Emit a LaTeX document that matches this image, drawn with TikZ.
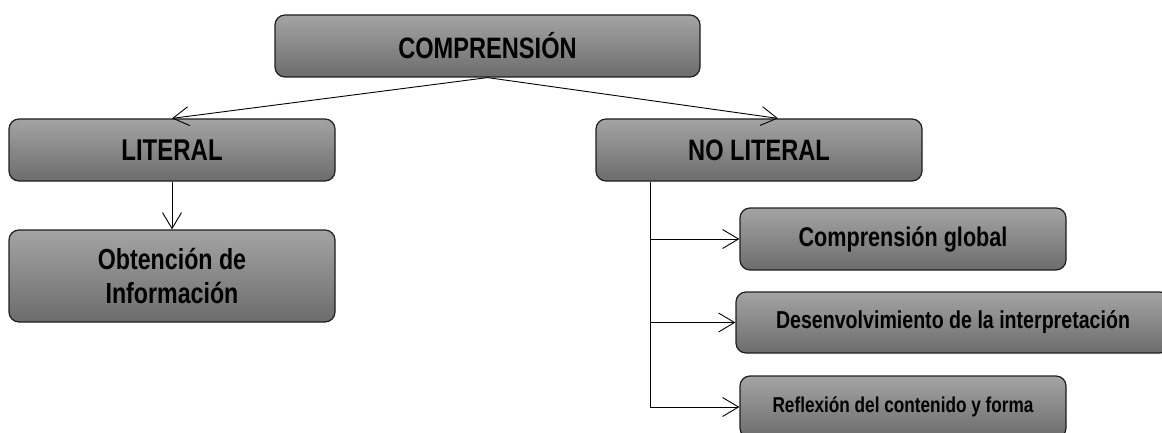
\documentclass[tikz,border=0pt]{standalone}
\usepackage{fontspec}
\newfontfamily\narrowfont{Liberation Sans}[FakeStretch=0.8]
\usetikzlibrary{arrows.meta,calc}
\definecolor{boxtop}{RGB}{164,164,164}
\definecolor{boxbot}{RGB}{108,108,108}
\definecolor{boxline}{RGB}{30,30,30}
\tikzset{
  gbox/.style={draw=boxline, line width=1.2pt, rounded corners=10pt,
    top color=boxtop, bottom color=boxbot, inner sep=0pt,
    minimum width=326pt, minimum height=62pt, align=center,
    font=\narrowfont\bfseries},
  conn/.style={line width=0.9pt, -{Straight Barb[length=16pt,width=19pt,line width=0.9pt]}},
  plain/.style={line width=0.9pt}
}
\begin{document}
\begin{tikzpicture}[x=1pt,y=-1pt]
\useasboundingbox (0,0) rectangle (1162,433);
\clip (0,0) rectangle (1162,433);
\node[gbox, minimum width=425pt, font=\narrowfont\bfseries\fontsize{29.5}{34}\selectfont] (comp) at (487.5,46) {COMPRENSIÓN};
\node[gbox, font=\narrowfont\bfseries\fontsize{30}{34}\selectfont] (lit) at (172,150) {LITERAL};
\node[gbox, minimum height=92pt, font=\narrowfont\bfseries\fontsize{29}{34}\selectfont] (obt) at (172,276) {Obtención de\\Información};
\node[gbox, font=\narrowfont\bfseries\fontsize{29.5}{34}\selectfont] (nolit) at (759,150) {NO LITERAL};
\node[gbox, font=\narrowfont\bfseries\fontsize{27}{30}\selectfont] (cg) at (903,239) {Comprensión global};
\node[gbox, minimum width=434pt, minimum height=61pt, font=\narrowfont\bfseries\fontsize{24.5}{28}\selectfont] (des) at (953,322.5) {Desenvolvimiento de la interpretación};
\node[gbox, font=\narrowfont\bfseries\fontsize{21.5}{25}\selectfont] (ref) at (903,407) {Reflexión del contenido y forma};
\draw[conn] (comp.south) -- (lit.north);
\draw[conn] (comp.south) -- ([xshift=19pt]nolit.north);
\draw[conn] (lit.south) -- (obt.north);
\coordinate (trunk) at ([xshift=55pt]nolit.south west);
\draw[plain] (trunk) -- (trunk |- ref.west);
\draw[conn] (trunk |- ref.west) -- (ref.west);
\draw[conn] (trunk |- cg.west) -- (cg.west);
\draw[conn] (trunk |- des.west) -- (des.west);
\end{tikzpicture}
\end{document}
